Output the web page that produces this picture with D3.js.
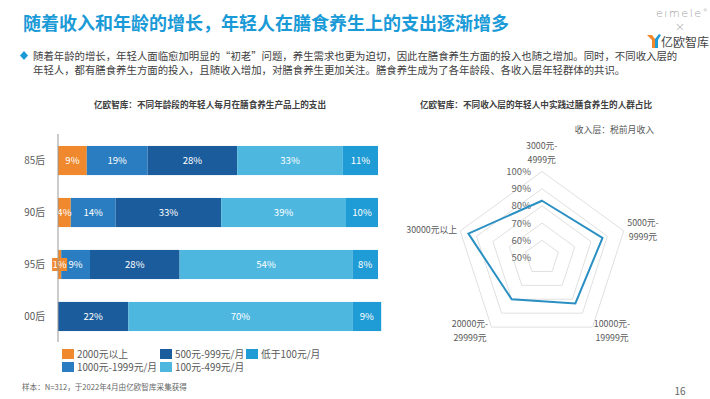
<!DOCTYPE html>
<html><head><meta charset="utf-8">
<script src="https://cdn.jsdelivr.net/npm/d3@7/dist/d3.min.js"></script>
<style>
body{margin:0;background:#fff;}
svg{display:block;font-family:"Noto Sans CJK SC","Noto Sans",sans-serif;}
</style></head>
<body><svg id="c" width="710" height="399"></svg>
<script>
// ---- Data ----
const ages = ["85后", "90后", "95后", "00后"];
const seriesNames = ["2000元以上", "1000元-1999元/月", "500元-999元/月", "100元-499元/月", "低于100元/月"];
const s2000 = [9, 4, 1, 0];
const s1000 = [19, 14, 9, 0];
const s500 = [28, 33, 28, 22];
const s100 = [33, 39, 54, 70];
const sLow = [11, 10, 8, 9];
const seriesColors = ["#f0892e", "#2a7dc0", "#1a5c9c", "#4db7df", "#1f9bd5"];

const incomeLevels = [["3000元-", "4999元"], ["5000元-", "9999元"], ["10000元-", "19999元"], ["20000元-", "29999元"], ["30000元以上"]];
const practiceShare = [83, 87, 83, 80, 95];
const ringTicks = [50, 60, 70, 80, 90, 100];

const svg = d3.select("#c");

// ---- Header ----
svg.append("text").attr("x", 23).attr("y", 30).attr("font-size", 18).attr("font-weight", "bold")
  .attr("fill", "#1a9ad6").text("随着收入和年龄的增长，年轻人在膳食养生上的支出逐渐增多");
svg.append("path").attr("d", "M24,51 L28,55.5 L24,60 L20,55.5 Z").attr("fill", "#1a9ad6");
svg.append("text").attr("x", 33).attr("y", 59.5).attr("font-size", 10.4).attr("fill", "#404040")
  .text("随着年龄的增长，年轻人面临愈加明显的“初老”问题，养生需求也更为迫切，因此在膳食养生方面的投入也随之增加。同时，不同收入层的");
svg.append("text").attr("x", 33).attr("y", 73.5).attr("font-size", 10.4).attr("fill", "#404040")
  .text("年轻人，都有膳食养生方面的投入，且随收入增加，对膳食养生更加关注。膳食养生成为了各年龄段、各收入层年轻群体的共识。");

// logo
const lg = svg.append("text").attr("x", 656).attr("y", 17).attr("font-size", 11)
  .attr("fill", "#9a9a9a").attr("font-family", "DejaVu Sans").attr("font-weight", 300);
lg.append("tspan").attr("letter-spacing", 1.6).text("eımele");
lg.append("tspan").attr("font-size", 5).attr("dy", -5).text("®");
svg.append("text").attr("x", 680).attr("y", 31).attr("text-anchor", "middle").attr("font-size", 13)
  .attr("fill", "#aaa").attr("font-family", "DejaVu Sans").attr("font-weight", 300).text("×");
svg.append("path").attr("d", "M647,35 L652,35 L655,39 L655,48 L652,48 L652,40 Z").attr("fill", "#f0892e");
svg.append("path").attr("d", "M655,39 L659,34 L661,35 L658,40 L658,48 L655,48 Z").attr("fill", "#1f9bd5");
svg.append("text").attr("x", 661).attr("y", 46.5).attr("font-size", 12).attr("fill", "#444").text("亿欧智库");

// ---- Bar chart ----
const bx0 = 58, bx1 = 378;
svg.append("text").attr("x", 210).attr("y", 108).attr("text-anchor", "middle").attr("font-size", 8.6)
  .attr("font-weight", "bold").attr("fill", "#404040").text("亿欧智库：不同年龄段的年轻人每月在膳食养生产品上的支出");

const x = d3.scaleLinear().domain([0, 100]).range([bx0, bx1]);
const y = d3.scaleBand().domain(ages).range([131.4, 345.6]).paddingInner(0.44).paddingOuter(0.28);
const table = ages.map((a, i) => ({age: a, s0: s2000[i], s1: s1000[i], s2: s500[i], s3: s100[i], s4: sLow[i]}));
const stack = d3.stack().keys(["s0", "s1", "s2", "s3", "s4"])(table);

const g = svg.append("g");
stack.forEach((layer, k) => {
  layer.forEach((d, i) => {
    const v = d[1] - d[0];
    if (v <= 0) return;
    const xa = x(d[0]), xb = x(d[1]);
    g.append("rect").attr("x", xa).attr("y", y(ages[i])).attr("width", xb - xa).attr("height", y.bandwidth())
      .attr("fill", seriesColors[k]);
  });
});
stack.forEach((layer, k) => {
  layer.forEach((d, i) => {
    const v = d[1] - d[0];
    if (v <= 0) return;
    const cx = (x(d[0]) + x(d[1])) / 2, cy = y(ages[i]) + y.bandwidth() / 2;
    if (v < 2) {
      g.append("rect").attr("x", cx - 7.5).attr("y", cy - 6.5).attr("width", 15).attr("height", 13).attr("fill", seriesColors[k]);
    }
    g.append("text").attr("x", cx).attr("y", cy + 3.5).attr("text-anchor", "middle").attr("font-size", 9.6)
      .attr("fill", "#fff").text(v + "%");
  });
});
// axis
svg.append("line").attr("x1", bx0).attr("x2", bx0).attr("y1", 134).attr("y2", 342).attr("stroke", "#999").attr("stroke-width", 1);
ages.forEach(a => {
  svg.append("text").attr("x", 45).attr("y", y(a) + y.bandwidth() / 2 + 3.5).attr("text-anchor", "end")
    .attr("font-size", 9.8).attr("fill", "#595959").text(a);
});
// legend (column-major)
const legPos = [[62, 354], [62, 367], [160, 354], [160, 367], [246, 354]];
seriesNames.forEach((n, k) => {
  const [lx, ly] = legPos[k];
  svg.append("rect").attr("x", lx).attr("y", ly - 5).attr("width", 12).attr("height", 10).attr("fill", seriesColors[k]);
  svg.append("text").attr("x", lx + 15).attr("y", ly + 3.5).attr("font-size", 9.8).attr("fill", "#595959").text(n);
});
svg.append("text").attr("x", 22).attr("y", 389.5).attr("font-size", 7.6).attr("fill", "#666")
  .text("样本：N=312，于2022年4月由亿欧智库采集获得");
svg.append("text").attr("x", 680).attr("y", 395).attr("text-anchor", "middle").attr("font-size", 10)
  .attr("fill", "#666").text("16");

// ---- Radar ----
const rcx = 542, rcy = 257.5, R = 86;
svg.append("text").attr("x", 536).attr("y", 108).attr("text-anchor", "middle").attr("font-size", 8.6)
  .attr("font-weight", "bold").attr("fill", "#404040").text("亿欧智库：不同收入层的年轻人中实践过膳食养生的人群占比");
svg.append("text").attr("x", 654).attr("y", 133).attr("text-anchor", "end").attr("font-size", 8.8)
  .attr("fill", "#595959").text("收入层：税前月收入");

const r = d3.scaleLinear().domain([50, 100]).range([0, R]);
const ang = d3.scalePoint().domain(d3.range(incomeLevels.length)).range([0, 2 * Math.PI * 4 / 5]);
const pt = (i, v) => [rcx + r(v) * Math.sin(ang(i)), rcy - r(v) * Math.cos(ang(i))];
ringTicks.slice(1).forEach(t => {
  svg.append("polygon").attr("points", incomeLevels.map((_, i) => pt(i, t).join(",")).join(" "))
    .attr("fill", "none").attr("stroke", "#e0e0e0").attr("stroke-width", 1);
});
ringTicks.forEach(t => {
  svg.append("text").attr("x", rcx - 11).attr("y", rcy - r(t) + 3.5).attr("text-anchor", "end")
    .attr("font-size", 9.6).attr("fill", "#666").text(t + "%");
});
svg.append("polygon").attr("points", practiceShare.map((v, i) => pt(i, v).join(",")).join(" "))
  .attr("fill", "none").attr("stroke", "#2a8fc2").attr("stroke-width", 2).attr("stroke-linejoin", "miter");

const labPos = [[541.7, 149], [643, 225.5], [612, 327], [470, 327], [431.7, 233]];
incomeLevels.forEach((lines, i) => {
  const t = svg.append("text").attr("x", labPos[i][0]).attr("y", labPos[i][1]).attr("text-anchor", "middle")
    .attr("font-size", 8.8).attr("fill", "#595959");
  lines.forEach((l, j) => t.append("tspan").attr("x", labPos[i][0]).attr("dy", j === 0 ? 0 : 14.3).text(l));
});
</script></body></html>
